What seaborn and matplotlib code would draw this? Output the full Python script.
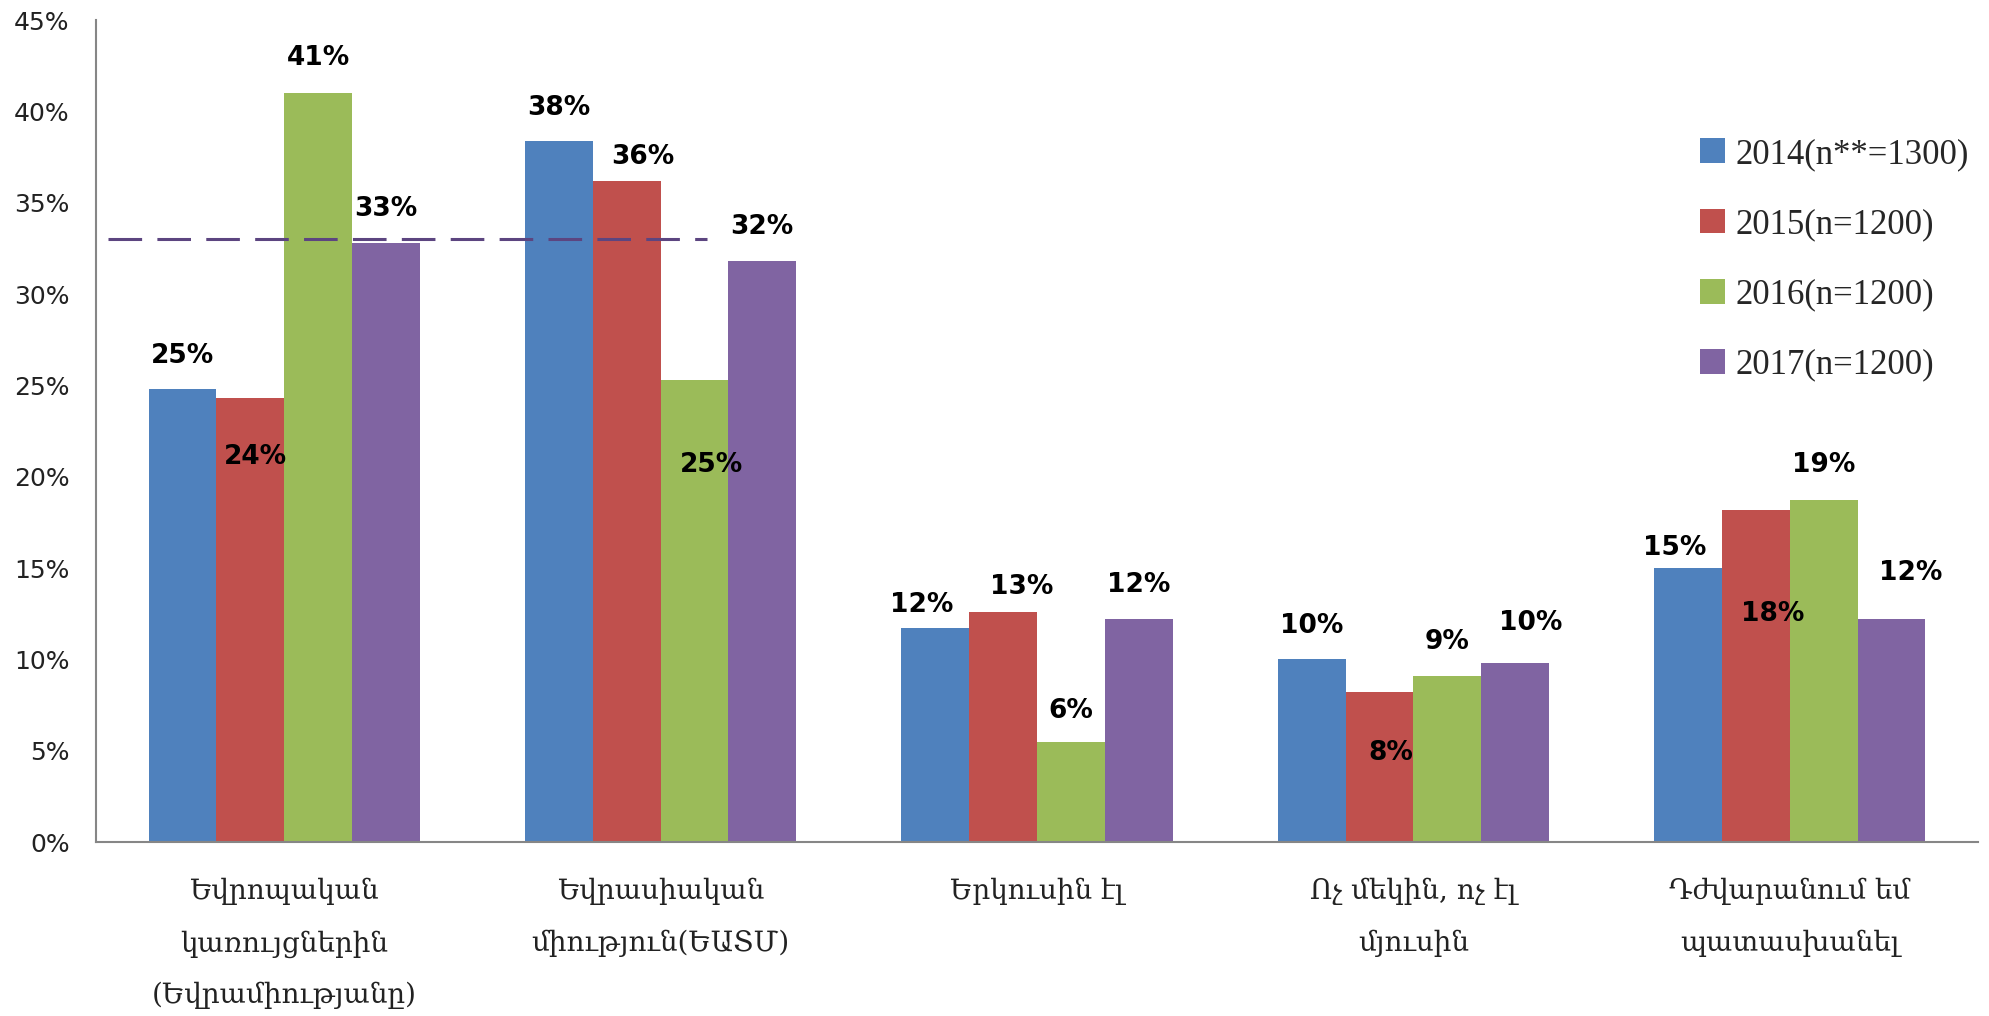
import matplotlib
matplotlib.use("Agg")
import matplotlib.pyplot as plt
from matplotlib.ticker import FixedLocator, FuncFormatter
import seaborn as sns
import pandas as pd

# answer options (Armenian)
categories = [
    "Եվրոպական\nկառույցներին\n(Եվրամիությանը)",
    "Եվրասիական\nմիություն(ԵԱՏՄ)",
    "Երկուսին էլ",
    "Ոչ մեկին, ոչ էլ\nմյուսին",
    "Դժվարանում եմ\nպատասխանել",
]
years = ["2014(n**=1300)", "2015(n=1200)", "2016(n=1200)", "2017(n=1200)"]

# percentages per survey wave
v2014 = [24.8, 38.4, 11.7, 10.0, 15.0]
v2015 = [24.3, 36.2, 12.6, 8.2, 18.2]
v2016 = [41.0, 25.3, 5.5, 9.1, 18.7]
v2017 = [32.8, 31.8, 12.2, 9.8, 12.2]
ref_line = 33.0  # dashed reference level

colors = ["#4F81BD", "#C0504D", "#9BBB59", "#8064A2"]

# label nudges in pixels (dx, dy) relative to bar top centre
nudges = [
    [(0, 33), (0, 33), (-14, 23), (0, 33), (-13, 20)],
    [(5, -59), (16, 24), (19, 25), (11, -61), (17, -104)],
    [(0, 35), (17, -85), (0, 31), (0, 34), (0, 35)],
    [(0, 34), (0, 34), (0, 34), (16, 40), (19, 46)],
]

rows = []
for yr, vals in zip(years, [v2014, v2015, v2016, v2017]):
    for cat, v in zip(categories, vals):
        rows.append({"cat": cat, "year": yr, "pct": v})
df = pd.DataFrame(rows)

sns.set_style("white")
plt.rcParams["font.family"] = ["DejaVu Sans"]

fig = plt.figure(figsize=(19.9, 10.16), dpi=100)
ax = fig.add_axes([96 / 1990, 1 - 842 / 1016, (1978 - 96) / 1990, (842 - 20) / 1016])

sns.barplot(data=df, x="cat", y="pct", hue="year", palette=colors,
            saturation=1, width=0.72, gap=0, ax=ax, errorbar=None,
            linewidth=0)

# value labels
for i, cont in enumerate(ax.containers):
    for j, bar in enumerate(cont):
        h = bar.get_height()
        dx, dy = nudges[i][j]
        ax.annotate(f"{int(h + 0.5)}%", (bar.get_x() + bar.get_width() / 2, h),
                    xytext=(dx, dy), textcoords="offset pixels",
                    ha="center", va="center", fontsize=19, fontweight="bold",
                    color="black")

# dashed reference line
ax.plot([-0.468, 1.123], [ref_line, ref_line], color="#5c4580", lw=2.2,
        dashes=(11, 5))

ax.set_xlim(-0.5, len(categories) - 0.5)
ax.set_ylim(0, 45)
ax.yaxis.set_major_locator(FixedLocator(range(0, 46, 5)))
ax.yaxis.set_major_formatter(FuncFormatter(lambda v, p: f"{v:.0f}%"))
ax.set_xlabel("")
ax.set_ylabel("")

for s in ["top", "right"]:
    ax.spines[s].set_visible(False)
for s in ["left", "bottom"]:
    ax.spines[s].set_color("#868686")
    ax.spines[s].set_linewidth(1.5)

ax.xaxis.set_minor_locator(FixedLocator([k - 0.5 for k in range(len(categories) + 1)]))
ax.tick_params(axis="x", which="major", length=0, pad=26)
ax.tick_params(axis="x", which="minor", length=10, width=1.2, color="#868686")
ax.tick_params(axis="y", length=7, width=1.2, color="#868686", pad=12,
               labelsize=18, labelcolor="#222222")
for t in ax.get_xticklabels():
    t.set_family(["DejaVu Serif", "DejaVu Sans"])
    t.set_fontsize(20)
    t.set_linespacing(2.15)
    t.set_color("#222222")

handles, _ = ax.get_legend_handles_labels()
ax.legend(handles, years, loc="upper left",
          bbox_to_anchor=(1700 / 1990, 1 - 138 / 1016),
          bbox_transform=fig.transFigure, frameon=False,
          prop={"family": ["Liberation Serif", "DejaVu Serif"], "size": 25},
          handlelength=0.72, handleheight=0.72, handletextpad=0.3,
          labelspacing=1.07, borderpad=0, borderaxespad=0)

fig.savefig("out.png", dpi=100)
